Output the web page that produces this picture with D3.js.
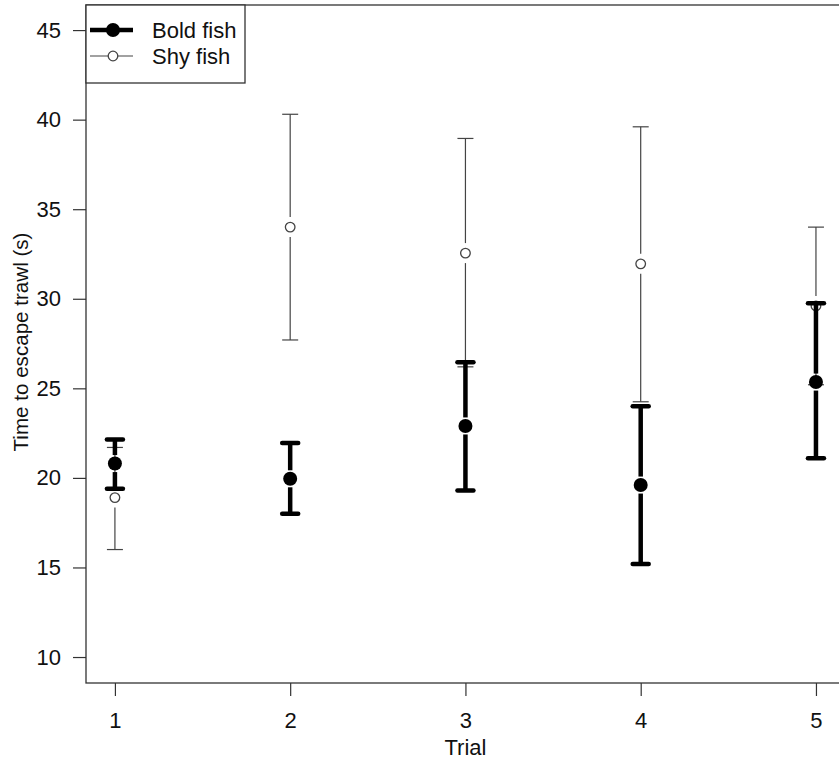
<!DOCTYPE html>
<html>
<head>
<meta charset="utf-8">
<script src="https://cdn.jsdelivr.net/npm/d3@7"></script>
<style>
  body { margin: 0; background: #fff; }
  svg { display: block; }
  text { font-family: "Liberation Sans", Arial, sans-serif; fill: #111; }
</style>
</head>
<body>
<svg id="chart" width="839" height="762"></svg>
<script>
// trial numbers and the two groups
var trials = [1, 2, 3, 4, 5];
var boldMean = [20.8, 19.95, 22.9, 19.6, 25.35];
var boldLow = [19.4, 18.0, 19.3, 15.2, 21.1];
var boldHigh = [22.15, 21.95, 26.45, 24.0, 29.75];
var shyMean = [18.9, 34.0, 32.55, 31.95, 29.6];
var shyLow = [16.0, 27.7, 26.2, 24.25, 25.2];
var shyHigh = [21.7, 40.3, 38.95, 39.6, 34.0];
var yTicks = [10, 15, 20, 25, 30, 35, 40, 45];

(function() {
  var svg = d3.select('#chart');
  var m = { left: 86, right: 844, top: 5, bottom: 683 };
  var fontSize = '22px';

  var x = d3.scaleLinear().domain([0.835, 5.16]).range([m.left, m.right]);
  var y = d3.scaleLinear().domain([8.55, 46.4]).range([m.bottom, m.top]);

  // plot frame
  svg.append('rect')
    .attr('x', m.left).attr('y', m.top)
    .attr('width', m.right - m.left).attr('height', m.bottom - m.top)
    .attr('fill', 'none').attr('stroke', '#333').attr('stroke-width', 1.3);

  var yAxis = svg.append('g')
    .attr('transform', 'translate(' + m.left + ',0)')
    .call(d3.axisLeft(y).tickValues(yTicks).tickSize(13).tickPadding(12).tickFormat(d3.format('d')));
  var xAxis = svg.append('g')
    .attr('transform', 'translate(0,' + m.bottom + ')')
    .call(d3.axisBottom(x).tickValues(trials).tickSize(13).tickPadding(16).tickFormat(d3.format('d')));

  [yAxis, xAxis].forEach(function(ax) {
    ax.select('.domain').remove();
    ax.selectAll('line').attr('stroke', '#333').attr('stroke-width', 1.2);
    ax.selectAll('text').style('font-size', fontSize)
      .style('font-family', '"Liberation Sans", Arial, sans-serif').attr('fill', '#111');
  });

  svg.append('text')
    .attr('x', x(3)).attr('y', 755)
    .attr('text-anchor', 'middle').style('font-size', fontSize)
    .text('Trial');
  svg.append('text')
    .attr('transform', 'translate(28,342) rotate(-90)')
    .attr('text-anchor', 'middle').style('font-size', '20.6px')
    .text('Time to escape trawl (s)');

  function drawGroup(mean, low, high, opt) {
    var g = svg.append('g');
    trials.forEach(function(t, i) {
      var cx = x(t), cy = y(mean[i]);
      g.append('line')
        .attr('x1', cx).attr('x2', cx)
        .attr('y1', cy - opt.gap).attr('y2', y(high[i]))
        .attr('stroke', opt.color).attr('stroke-width', opt.width);
      g.append('line')
        .attr('x1', cx).attr('x2', cx)
        .attr('y1', cy + opt.gap).attr('y2', y(low[i]))
        .attr('stroke', opt.color).attr('stroke-width', opt.width);
      [low[i], high[i]].forEach(function(v) {
        g.append('line')
          .attr('x1', cx - opt.cap).attr('x2', cx + opt.cap)
          .attr('y1', y(v)).attr('y2', y(v))
          .attr('stroke', opt.color).attr('stroke-width', opt.width)
          .attr('stroke-linecap', opt.linecap);
      });
      g.append('circle')
        .attr('cx', cx).attr('cy', cy).attr('r', opt.r)
        .attr('fill', opt.fill).attr('stroke', opt.pointStroke)
        .attr('stroke-width', opt.pointWidth);
    });
  }

  var shyStyle = { color: '#444', width: 1.2, cap: 8, gap: 10, linecap: 'butt',
    r: 4.8, fill: '#fff', pointStroke: '#444', pointWidth: 1.3 };
  var boldStyle = { color: '#000', width: 4.5, cap: 8, gap: 8.5, linecap: 'round',
    r: 7, fill: '#000', pointStroke: '#000', pointWidth: 0 };

  drawGroup(shyMean, shyLow, shyHigh, shyStyle);
  drawGroup(boldMean, boldLow, boldHigh, boldStyle);

  // legend
  var legend = svg.append('g');
  legend.append('rect')
    .attr('x', m.left).attr('y', m.top).attr('width', 159).attr('height', 78)
    .attr('fill', '#fff').attr('stroke', '#333').attr('stroke-width', 1.3);
  var items = [
    { label: 'Bold fish', style: boldStyle, y: 30 },
    { label: 'Shy fish', style: shyStyle, y: 56 }
  ];
  items.forEach(function(d) {
    legend.append('line')
      .attr('x1', 90).attr('x2', 133).attr('y1', d.y).attr('y2', d.y)
      .attr('stroke', d.style.color).attr('stroke-width', d.style.width);
    legend.append('circle')
      .attr('cx', 113).attr('cy', d.y).attr('r', d.style.r)
      .attr('fill', d.style.fill).attr('stroke', d.style.pointStroke)
      .attr('stroke-width', d.style.pointWidth);
    legend.append('text')
      .attr('x', 152).attr('y', d.y + 8)
      .style('font-size', fontSize)
      .text(d.label);
  });
})();
</script>
</body>
</html>
